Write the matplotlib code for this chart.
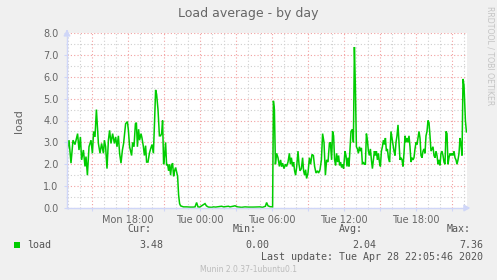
import numpy as np
import pandas as pd
import matplotlib
matplotlib.use("Agg")
import matplotlib.pyplot as plt
import matplotlib.dates as mdates
from matplotlib.ticker import MultipleLocator, FuncFormatter

# ---- data (minutes relative to Tue 2020-04-28 00:00, load value) ----
t_min = [
    -667, -655, -645, -635, -625, -612, -605, -598, -592, -583, -575, -570, -563, -555, -545,
    -538, -532, -525, -518, -513, -508, -500, -492, -483, -478, -472, -465, -458, -452, -445,
    -437, -428, -422, -415, -408, -402, -395, -388, -382, -372, -363, -358, -352,
    -342, -337, -330, -323, -318, -313, -307, -302, -295, -290, -283, -278, -272, -267, -260,
    -253, -247, -240, -233, -227, -222, -217, -210, -203, -197, -192, -187, -182, -177, -172,
    -167, -162, -157, -152, -147, -142, -137, -132, -127, -122, -117, -112, -107, -102, -97,
    -83, -67, -50, -33,
    -25, -17, -10, -2, 25, 32, 42, 58, 68, 78, 92, 108, 118, 142, 150, 175, 188, 208, 225,
    242, 267, 292,
    300, 313, 327, 333, 340, 350, 360, 363, 367, 372, 377, 383, 390, 397, 403, 408, 413, 420,
    427, 433, 440, 447, 452, 457, 463, 468, 473, 478, 483, 490, 495, 500, 507, 513, 518, 523,
    528, 533, 540, 547, 553, 560, 567, 573, 580, 587, 593, 600, 607, 613, 620, 627, 633, 640, 647,
    652, 658, 663, 668, 673, 678, 683, 688, 693, 698, 703, 708, 713, 718, 725, 730, 735, 740,
    745, 750, 755, 762, 767, 772, 777, 782, 787, 792, 797, 802, 807, 812, 817, 822, 827, 832,
    837, 842, 847, 852, 857, 862, 867, 872, 877, 882, 887, 892, 897, 902, 907, 912, 917, 922,
    927, 932, 937, 942, 948,
    955, 960, 965, 970, 975, 980, 985, 990, 995, 1000, 1005, 1010, 1015, 1020, 1025, 1030, 1035,
    1040, 1045, 1050, 1055, 1060, 1065, 1070, 1075, 1080, 1085, 1090, 1095, 1100, 1105, 1110,
    1115, 1120, 1125, 1130, 1135, 1140, 1145, 1150, 1155, 1160, 1165, 1170, 1175, 1180, 1185,
    1190, 1195, 1200, 1205, 1210, 1215, 1220, 1225, 1230, 1235, 1240, 1245, 1250, 1255, 1260,
    1265, 1270, 1275, 1280, 1285, 1290, 1295, 1300, 1305, 1310, 1315, 1320, 1327, 1332,
]
load = [
    2.5, 3.1, 2.05, 3.1, 2.9, 3.4, 2.65, 3.25, 2.2, 2.65, 1.9, 2.35, 1.5, 2.8, 3.1,
    2.5, 3.5, 3.25, 4.5, 3.7, 2.95, 2.5, 2.95, 2.5, 3.1, 2.8, 1.8, 3.1, 3.55, 2.95,
    3.4, 2.95, 3.25, 2.8, 3.3, 2.5, 2.05, 2.65, 2.95, 3.85, 3.95, 3.55, 2.8,
    2.4, 3.0, 2.8, 3.85, 3.9, 2.8, 3.6, 3.1, 3.4, 3.2, 2.8, 2.4, 2.85, 2.1, 2.1,
    2.5, 2.7, 2.9, 2.5, 4.0, 5.4, 5.2, 4.5, 3.3, 3.3, 3.4, 4.0, 2.0, 2.4, 3.0,
    1.95, 2.0, 1.7, 2.0, 1.5, 1.95, 2.05, 1.45, 1.7, 1.85, 1.65, 1.45, 0.6, 0.2, 0.1,
    0.05, 0.05, 0.04, 0.04,
    0.05, 0.25, 0.05, 0.04, 0.2, 0.1, 0.04, 0.03, 0.05, 0.04, 0.06, 0.08, 0.05, 0.08, 0.05,
    0.1, 0.05, 0.03, 0.05, 0.04, 0.04, 0.05,
    0.05, 0.03, 0.08, 0.25, 0.1, 0.06, 0.05, 0.05, 4.9, 4.5, 2.0, 2.5, 2.3, 1.9, 2.2, 1.9,
    2.05, 1.8, 2.0, 1.9, 2.1, 2.5, 2.0, 2.3, 1.9, 2.1, 1.7, 1.5, 1.85, 2.6, 2.0, 1.7, 1.8,
    2.3, 1.7, 1.5, 1.75, 1.35, 1.6, 2.3, 2.0, 2.45, 2.4, 1.9, 1.6, 1.7, 1.6, 1.75, 2.2, 3.4,
    3.0, 1.5, 2.2, 2.1, 2.95,
    3.0, 2.2, 3.5, 3.3, 2.2, 1.95, 2.5, 2.1, 2.4, 1.95, 2.1, 1.85, 2.0, 1.8, 2.6, 2.4, 1.9,
    2.3, 1.9, 2.7, 3.5, 3.6, 3.0, 7.36, 5.5, 2.8, 2.7, 2.5, 2.8, 2.6, 2.75, 2.0, 2.1, 2.0,
    2.0, 3.4, 3.1, 2.6, 2.4, 2.7, 2.2, 1.8, 2.2, 2.6, 2.4, 2.6, 2.2, 2.5, 2.1, 1.9, 2.6,
    2.8, 3.1, 2.9, 3.2, 2.6, 2.7, 2.3, 2.1,
    3.5, 3.2, 2.9, 2.6, 2.4, 3.0, 3.3, 3.8, 3.0, 2.2, 2.3, 2.2, 1.9, 2.5, 3.3, 3.0, 3.2,
    3.0, 3.3, 2.8, 2.1, 2.3, 2.2, 2.3, 2.7, 3.0, 2.9, 3.2, 3.5, 3.2, 2.4, 2.3, 2.6, 2.7,
    2.5, 3.3, 3.5, 4.0, 3.9, 3.3, 2.6, 2.7, 2.8, 2.4, 2.3, 2.6, 2.4, 2.0, 2.2, 1.95, 2.5,
    2.6, 2.4, 2.1, 2.0, 3.5, 3.4, 2.0, 2.3, 2.5, 2.4, 2.5, 2.4, 2.6, 2.3, 2.2, 2.0, 2.2,
    2.5, 3.2, 2.9, 2.4, 5.9, 5.6, 4.0, 3.48,
]
base_day = "2020-04-28"
x_range_min = [-665, 1335]
y_max = 8.0
title = "Load average - by day"
ylabel = "load"
series_name = "load"
stat_labels = ["Cur:", "Min:", "Avg:", "Max:"]
stat_values = ["3.48", "0.00", "2.04", "7.36"]
last_update = "Last update: Tue Apr 28 22:05:46 2020"
version = "Munin 2.0.37-1ubuntu0.1"
side_text = "RRDTOOL / TOBI OETIKER"

# ---- styling ----
BACK = "#F0F0F0"
FONT = "#666666"
AXIS = "#CFD6F8"
GREEN = "#00CC00"
MGRID = "#F2A0A0"
GRID = "#CFCFCF"

W, H = 497, 280
fig = plt.figure(figsize=(W / 100, H / 100), dpi=100, facecolor=BACK)
ax = fig.add_axes([67 / W, (H - 208) / H, 400 / W, 175 / H])
ax.set_facecolor("white")

base = pd.Timestamp(base_day)
times = base + pd.to_timedelta(t_min, unit="min")
ax.plot(times, load, color=GREEN, lw=1.1, zorder=3, solid_joinstyle="miter")

ax.set_xlim(base + pd.Timedelta(minutes=x_range_min[0]), base + pd.Timedelta(minutes=x_range_min[1]))
ax.set_ylim(0, y_max)

ax.xaxis.set_major_locator(mdates.HourLocator(byhour=range(0, 24, 3)))
ax.xaxis.set_minor_locator(mdates.HourLocator())

def xfmt(v, pos):
    d = mdates.num2date(v)
    if d.hour % 6 == 0:
        return d.strftime("%a %H:%M")
    return ""

ax.xaxis.set_major_formatter(FuncFormatter(xfmt))
ax.yaxis.set_major_locator(MultipleLocator(1.0))
ax.yaxis.set_minor_locator(MultipleLocator(0.5))
ax.yaxis.set_major_formatter(FuncFormatter(lambda v, p: f"{v:.1f}"))

ax.grid(which="minor", color=GRID, linestyle=(0, (1, 2)), lw=0.8, zorder=1)
ax.grid(which="major", color=MGRID, linestyle=(0, (1, 2)), lw=0.8, zorder=2)
ax.set_axisbelow(True)

for s in ["top", "right"]:
    ax.spines[s].set_visible(False)
for s in ["left", "bottom"]:
    ax.spines[s].set_color(AXIS)
    ax.spines[s].set_linewidth(1.0)
    ax.spines[s].set_zorder(4)

ax.tick_params(which="both", length=2, width=0.8, color=AXIS, labelcolor=FONT, labelsize=7, pad=3)
ax.tick_params(axis="y", pad=4)
ax.tick_params(which="minor", length=1)

# arrows
ax.annotate("", xy=(0, 1.035), xytext=(0, 0.99), xycoords="axes fraction",
            arrowprops=dict(arrowstyle="-|>,head_length=0.35,head_width=0.2", color=AXIS, lw=1.0),
            annotation_clip=False)
ax.annotate("", xy=(1.015, 0), xytext=(0.99, 0), xycoords="axes fraction",
            arrowprops=dict(arrowstyle="-|>,head_length=0.35,head_width=0.2", color=AXIS, lw=1.0),
            annotation_clip=False)

def px(x, y):
    return x / W, 1 - y / H

fig.text(*px(248.5, 13), title, ha="center", va="center", color=FONT, fontsize=9)
fig.text(*px(19, 121), ylabel, ha="center", va="center", rotation=90, color=FONT, fontsize=8)
fig.text(*px(490, 56), side_text, ha="center", va="center", rotation=270, color="#C4C4C4",
         fontsize=5.6)

mono = "DejaVu Sans Mono"
fig.patches.append(plt.Rectangle(px(14, 247.5), 6 / W, 6 / H, transform=fig.transFigure,
                                 facecolor=GREEN, edgecolor="none"))
fig.text(*px(27, 244.5), series_name, ha="left", va="center", color="#555555",
         fontsize=7.2, family=mono)
label_right = [151, 257, 363, 471]
value_right = [163, 269, 376, 483]
for lab, val, lx, vx in zip(stat_labels, stat_values, label_right, value_right):
    fig.text(*px(lx, 228.5), lab, ha="right", va="center", color="#555555", fontsize=7.2, family=mono)
    fig.text(*px(vx, 244.5), val, ha="right", va="center", color="#555555", fontsize=7.2, family=mono)
fig.text(*px(483, 257), last_update, ha="right", va="center", color="#555555", fontsize=7.2,
         family=mono)
fig.text(*px(248, 270), version, ha="center", va="center", color="#BBBBBB", fontsize=5.5)

fig.savefig("out.png", dpi=100, facecolor=BACK)
